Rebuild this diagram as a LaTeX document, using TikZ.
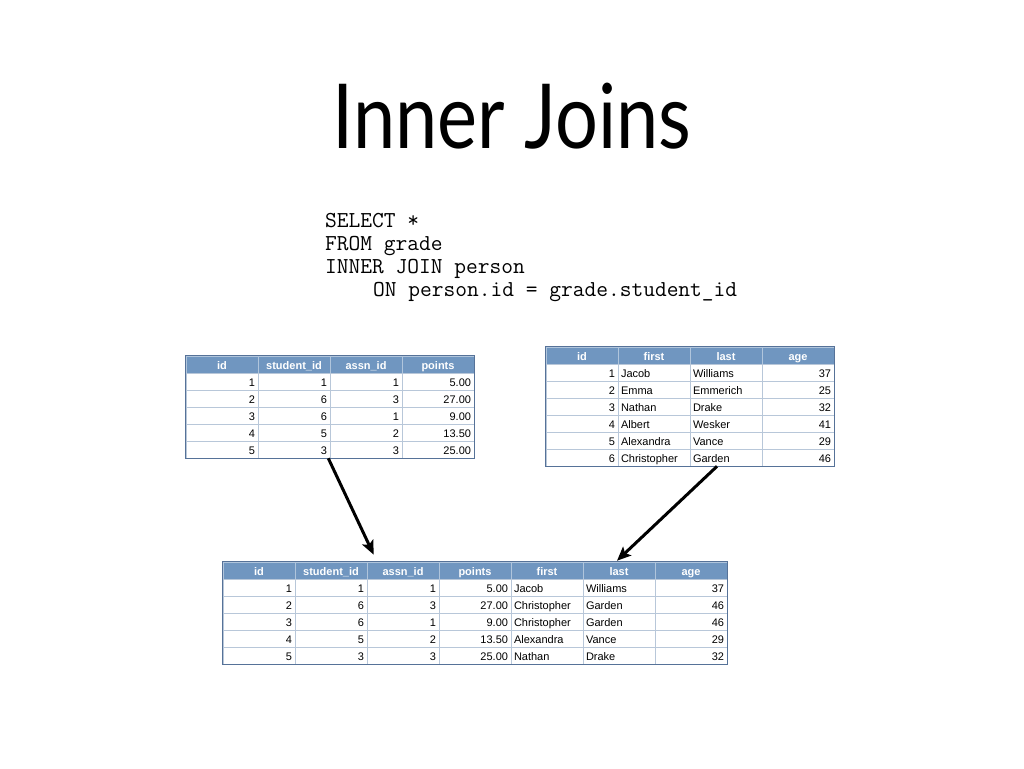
\documentclass[tikz,border=0pt]{standalone}
\usepackage{fontspec}
\setmainfont{Liberation Sans}
\newfontfamily\titlefont{Lato}
\usetikzlibrary{arrows.meta,positioning}

\definecolor{headblue}{RGB}{112,150,192}
\definecolor{gridblue}{RGB}{184,199,217}
\definecolor{edgeblue}{RGB}{86,114,152}

\tikzset{
  cell/.style={draw=gridblue, line width=0.6pt, minimum width=72pt, minimum height=17pt,
    inner xsep=3pt, inner ysep=0pt, text height=10.5pt, text depth=1.5pt,
    font=\fontsize{11}{12}\selectfont},
  head/.style={cell, fill=headblue, draw=headblue!55!white, text=white,
    font=\fontsize{11}{12}\selectfont\bfseries},
  frame/.style={draw=edgeblue, line width=0.8pt},
  sqlline/.style={anchor=base west, inner sep=0pt, font=\fontsize{22.8}{23}\ttfamily},
  joinarrow/.style={line width=3pt, -{Stealth[length=14pt,width=12pt,inset=3pt]}}
}

\begin{document}
\begin{tikzpicture}[x=1pt,y=-1pt]
\useasboundingbox (0,0) rectangle (1024,768);

% title and query
\node[anchor=base, inner sep=0pt, font=\fontsize{78}{90}\titlefont] (title) at (512,148)
  {\scalebox{0.97}[1.15]{Inner Joins}};
\node[sqlline] (sql1) at (325,227) {SELECT *};
\node[sqlline] (sql2) at (325,250) {FROM grade};
\node[sqlline] (sql3) at (325,273) {INNER JOIN person};
\node[sqlline] (sql4) at (373,296) {ON person.id = grade.student\_id};

% grade table
\def\gradeHead{id,student\_id,assn\_id,points}
\def\gradeRows{{1,1,1,5.00},{2,6,3,27.00},{3,6,1,9.00},{4,5,2,13.50},{5,3,3,25.00}}
\foreach \h [count=\c] in \gradeHead
  \node[head] (g-0-\c) at ({186+72*(\c-0.5)},{356+8.5}) {\h};
\foreach \row [count=\r] in \gradeRows
  \foreach \v [count=\c] in \row
    \node[cell] (g-\r-\c) at ({186+72*(\c-0.5)},{356+8.5+17*\r}) {\makebox[66pt][r]{\v}};
\draw[frame] (g-0-1.north west) rectangle (g-5-4.south east);

% person table
\def\personHead{id,first,last,age}
\def\personRows{{1,Jacob,Williams,37},{2,Emma,Emmerich,25},{3,Nathan,Drake,32},
  {4,Albert,Wesker,41},{5,Alexandra,Vance,29},{6,Christopher,Garden,46}}
\foreach \h [count=\c] in \personHead
  \node[head] (p-0-\c) at ({546+72*(\c-0.5)},{347+8.5}) {\h};
\foreach \row [count=\r] in \personRows
  \foreach \v [count=\c] in \row
  {
    \pgfmathtruncatemacro\lft{(\c==2)||(\c==3)}
    \ifnum\lft=1 \def\al{l}\else\def\al{r}\fi
    \node[cell] (p-\r-\c) at ({546+72*(\c-0.5)},{347+8.5+17*\r}) {\makebox[66pt][\al]{\v}};
  }
\draw[frame] (p-0-1.north west) rectangle (p-6-4.south east);

% joined table
\def\joinHead{id,student\_id,assn\_id,points,first,last,age}
\def\joinRows{{1,1,1,5.00,Jacob,Williams,37},{2,6,3,27.00,Christopher,Garden,46},
  {3,6,1,9.00,Christopher,Garden,46},{4,5,2,13.50,Alexandra,Vance,29},
  {5,3,3,25.00,Nathan,Drake,32}}
\foreach \h [count=\c] in \joinHead
  \node[head] (j-0-\c) at ({223+72*(\c-0.5)},{562+8.5}) {\h};
\foreach \row [count=\r] in \joinRows
  \foreach \v [count=\c] in \row
  {
    \pgfmathtruncatemacro\lft{(\c==5)||(\c==6)}
    \ifnum\lft=1 \def\al{l}\else\def\al{r}\fi
    \node[cell] (j-\r-\c) at ({223+72*(\c-0.5)},{562+8.5+17*\r}) {\makebox[66pt][\al]{\v}};
  }
\draw[frame] (j-0-1.north west) rectangle (j-5-7.south east);

% arrows
\draw[joinarrow] ([xshift=-2pt]g-5-2.south east) -- ([xshift=7pt,yshift=7pt]j-0-3.north west);
\draw[joinarrow] ([xshift=-9pt]p-6-3.south) -- ([xshift=-2pt,yshift=1pt]j-0-6.north);
\end{tikzpicture}
\end{document}
